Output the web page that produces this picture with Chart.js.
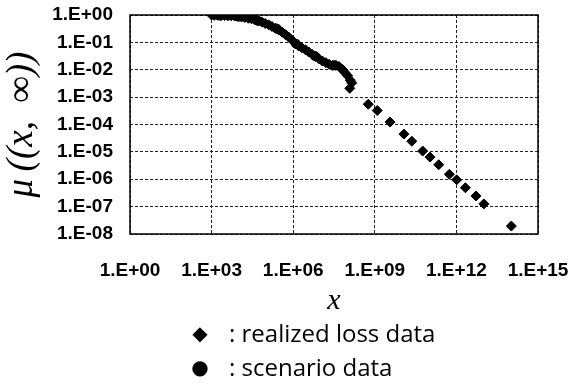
<!DOCTYPE html>
<html lang="en">
<head>
<meta charset="UTF-8">
<title>Tail measure</title>
<script src="https://cdn.jsdelivr.net/npm/chart.js@4"></script>
<style>
    body { margin: 0; background: #fff; }
    .chart-box { position: absolute; left: 0; top: 0; width: 570px; height: 320px; }
    .legend-row { position: absolute; left: 0; height: 30px; font-family: "Open Sans", sans-serif; font-size: 24px; color: #000; line-height: 30px; white-space: nowrap; }
    .legend-row .mark { position: absolute; left: 186px; width: 28px; text-align: center; font-family: "DejaVu Sans", sans-serif; font-size: 20px; }
    .legend-row .name { position: absolute; left: 229px; }
</style>
</head>
<body>
<div class="chart-box"><canvas id="tailChart"></canvas></div>
<div id="legend"></div>

<script>
    // values, as powers of ten
    const lossLogX = [3.00, 3.10, 3.22, 3.35, 3.48, 3.60, 3.72, 3.85, 3.97, 4.10, 4.22, 4.35, 4.47, 4.60,
        4.72, 4.85, 4.97, 5.10, 5.22, 5.35, 5.47, 5.60, 5.72, 5.85, 5.97, 6.08, 6.20, 6.32, 6.45, 6.57,
        6.70, 6.82, 6.95, 7.07, 7.20, 7.32, 7.45, 7.57, 7.68, 7.80, 7.90, 8.00, 8.10, 8.15, 8.08,
        8.76, 9.09, 9.56, 10.07, 10.36, 10.76, 11.03, 11.35, 11.74, 12.01, 12.33, 12.72, 13.01, 14.02];
    const lossLogY = [0.00, -0.01, -0.01, -0.02, -0.02, -0.03, -0.03, -0.04, -0.05, -0.07, -0.09, -0.12, -0.14, -0.18,
        -0.22, -0.26, -0.31, -0.36, -0.42, -0.48, -0.55, -0.63, -0.72, -0.82, -0.93, -1.04, -1.13, -1.20, -1.27, -1.35,
        -1.44, -1.52, -1.60, -1.68, -1.74, -1.80, -1.84, -1.84, -1.88, -1.98, -2.10, -2.22, -2.38, -2.48, -2.68,
        -3.26, -3.49, -3.91, -4.35, -4.61, -4.97, -5.19, -5.47, -5.82, -6.02, -6.31, -6.61, -6.90, -7.71];

    const scenarioLogX = [3.30, 4.00, 4.70, 5.40, 6.10, 6.80, 7.50];
    const scenarioLogY = [-0.02, -0.06, -0.21, -0.50, -1.05, -1.50, -1.84];

    const xTickExps = [0, 3, 6, 9, 12, 15];
    const xTickLabels = ['1.E+00', '1.E+03', '1.E+06', '1.E+09', '1.E+12', '1.E+15'];
    const yTickExps = [0, -1, -2, -3, -4, -5, -6, -7, -8];
    const yTickLabels = ['1.E+00', '1.E-01', '1.E-02', '1.E-03', '1.E-04', '1.E-05', '1.E-06', '1.E-07', '1.E-08'];

    const seriesNames = ['realized loss data', 'scenario data'];
    const seriesMarks = ['\u25C6', '\u25CF'];

    function toPoints(lx, ly) {
        return lx.map((e, i) => ({ x: Math.pow(10, e), y: Math.pow(10, ly[i]) }));
    }

    // solid box round the plot area
    const frame = {
        id: 'frame',
        beforeDatasetsDraw(chart) {
            const { ctx, chartArea: a } = chart;
            ctx.save();
            ctx.strokeStyle = '#000';
            ctx.lineWidth = 1.5;
            ctx.strokeRect(a.left, a.top, a.right - a.left, a.bottom - a.top);
            ctx.restore();
        }
    };

    const tickFont = { family: '"Liberation Sans", Arial, sans-serif', size: 19, weight: 'bold' };
    const titleFont = { family: '"Liberation Serif", serif', size: 37, style: 'italic' };

    new Chart(document.getElementById('tailChart'), {
        type: 'scatter',
        data: {
            datasets: [
                {
                    label: seriesNames[0],
                    data: toPoints(lossLogX, lossLogY),
                    pointStyle: 'rectRot',
                    pointRadius: 5,
                    backgroundColor: '#000',
                    borderColor: '#000',
                    borderWidth: 1
                },
                {
                    label: seriesNames[1],
                    data: toPoints(scenarioLogX, scenarioLogY),
                    pointStyle: 'circle',
                    pointRadius: 4.5,
                    backgroundColor: '#000',
                    borderColor: '#000',
                    borderWidth: 1
                }
            ]
        },
        options: {
            responsive: true,
            maintainAspectRatio: false,
            animation: false,
            layout: { padding: { top: 15, right: 32, left: 0, bottom: 0 } },
            plugins: { legend: { display: false }, tooltip: { enabled: false } },
            scales: {
                x: {
                    type: 'logarithmic',
                    min: 1,
                    max: 1e15,
                    afterBuildTicks: s => { s.ticks = xTickExps.map(e => ({ value: Math.pow(10, e) })); },
                    afterFit: s => { s.height = 86; s.paddingLeft = 0; s.paddingRight = 0; },
                    grid: { color: '#222', lineWidth: 1, drawTicks: false },
                    border: { display: false, dash: [3, 2] },
                    ticks: {
                        autoSkip: false, maxRotation: 0, padding: 25, color: '#000', font: tickFont,
                        callback: (v, i) => xTickLabels[i]
                    },
                    title: {
                        display: true, text: 'x', color: '#000',
                        font: { family: titleFont.family, size: 30, style: 'italic' },
                        padding: { top: 0, bottom: 1 }
                    }
                },
                y: {
                    type: 'logarithmic',
                    min: 1e-8,
                    max: 1,
                    afterBuildTicks: s => { s.ticks = yTickExps.map(e => ({ value: Math.pow(10, e) })); },
                    afterFit: s => { s.width = 130; s.paddingTop = 0; s.paddingBottom = 0; },
                    grid: { color: '#222', lineWidth: 1, drawTicks: false },
                    border: { display: false, dash: [3, 2] },
                    ticks: {
                        autoSkip: false, padding: 17, color: '#000', font: tickFont,
                        callback: (v, i) => yTickLabels[i]
                    },
                    title: {
                        display: true,
                        text: '\u03BC\u2009((x,\u2002\u221E))',
                        color: '#000', font: titleFont,
                        padding: { top: 0, bottom: 0 }
                    }
                }
            }
        },
        plugins: [frame]
    });

    // legend under the chart
    const legend = document.getElementById('legend');
    const rowTops = [318, 352];
    seriesNames.forEach((name, i) => {
        const row = document.createElement('div');
        row.className = 'legend-row';
        row.style.top = rowTops[i] + 'px';
        row.innerHTML = '<span class="mark">' + seriesMarks[i] + '</span><span class="name">: ' + name + '</span>';
        legend.appendChild(row);
    });
</script>
</body>
</html>
